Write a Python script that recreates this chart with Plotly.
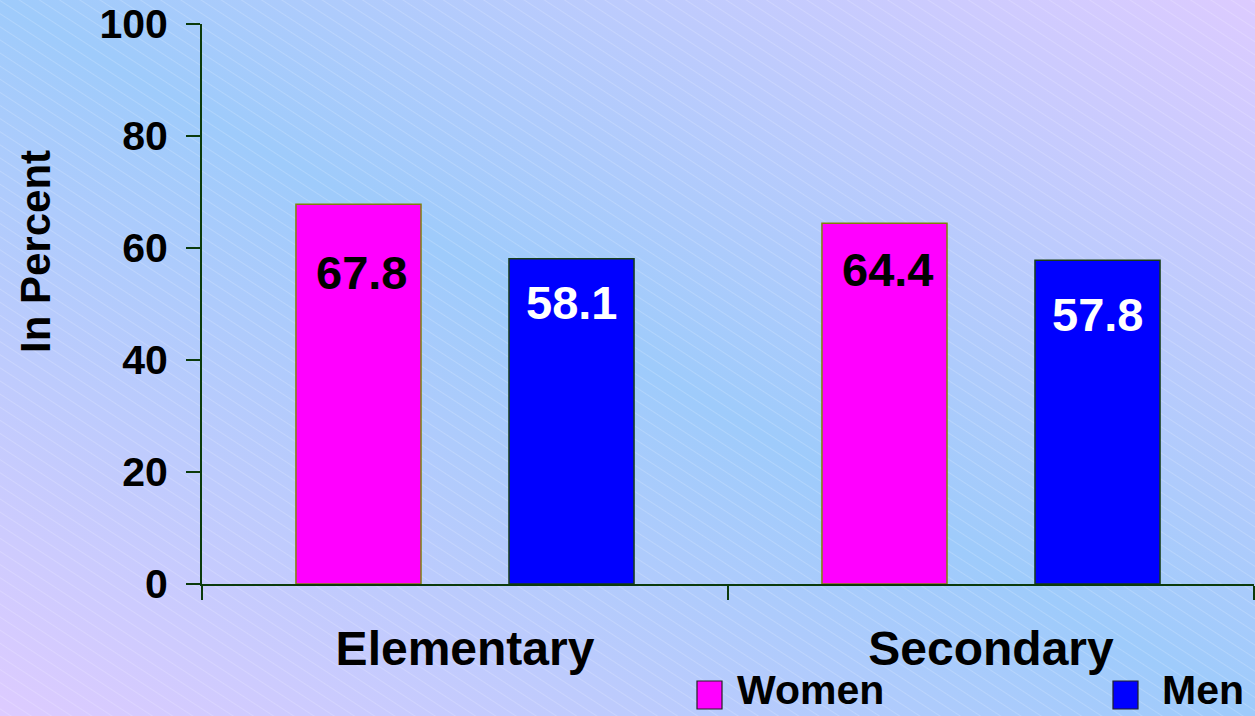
import base64
import plotly.graph_objects as go

categories = ["Elementary", "Secondary"]
series_names = ["Women", "Men"]
women_values = [67.8, 64.4]
men_values = [58.1, 57.8]
y_ticks = [0, 20, 40, 60, 80, 100]

colors = {"Women": "#ff00ff", "Men": "#0000ff"}
outline = {"Women": "#80800a", "Men": "#173d17"}
label_colors = {"Women": "black", "Men": "white"}
values = {"Women": women_values, "Men": men_values}
# vertical offsets (px) of the value labels below the bar tops, as placed in the original
label_drop = {"Women": [-68, -46], "Men": [-44, -54]}

W, H = 1255, 716
ML, MR, MT, MB = 202, 1, 24, 132
PW, PH = W - ML - MR, H - MT - MB
FONT = "Arial, Liberation Sans, sans-serif"
AXIS = "#0b3a0b"

svg = f'''<svg xmlns="http://www.w3.org/2000/svg" width="{W}" height="{H}" viewBox="0 0 {W} {H}" preserveAspectRatio="none">
<defs>
<linearGradient id="g" x1="0" y1="1" x2="1" y2="0">
<stop offset="0" stop-color="#ddcbff"/>
<stop offset="0.5" stop-color="#9ecbfb"/>
<stop offset="1" stop-color="#dccbff"/>
</linearGradient>
<pattern id="p" width="11" height="11" patternUnits="userSpaceOnUse" patternTransform="rotate(33)">
<line x1="0" y1="0" x2="11" y2="0" stroke="white" stroke-opacity="0.3" stroke-width="1.2"/>
</pattern>
</defs>
<rect width="{W}" height="{H}" fill="url(#g)"/>
<rect width="{W}" height="{H}" fill="url(#p)"/>
</svg>'''
bg_uri = "data:image/svg+xml;base64," + base64.b64encode(svg.encode()).decode()

fig = go.Figure()
for name in series_names:
    fig.add_trace(go.Bar(
        x=categories, y=values[name], name=name,
        marker=dict(color=colors[name], line=dict(color=outline[name], width=1.5)),
        showlegend=False,
    ))

# value labels inside bars
for i, name in enumerate(series_names):
    for j, cat in enumerate(categories):
        fig.add_annotation(
            x=cat, y=values[name][j], xref="x", yref="y",
            text=f"{values[name][j]:.1f}", showarrow=False,
            xshift=(-1 if i == 0 else 1) * 106.5 + (3 if i == 0 else 0),
            yshift=label_drop[name][j], yanchor="middle",
            font=dict(family=FONT, size=47, color=label_colors[name], weight="bold"),
        )

# y-axis title
fig.add_annotation(x=(35 - ML) / PW, y=(584 - 252) / PH, xref="paper", yref="paper",
                   text="In Percent", showarrow=False, textangle=-90,
                   xanchor="center", yanchor="middle",
                   font=dict(family=FONT, size=42, color="black", weight="bold"))

# custom legend
leg_x = {"Women": (697, 735), "Men": (1113, 1160)}
for name in series_names:
    sx, tx = leg_x[name]
    fig.add_shape(type="rect", xref="paper", yref="paper",
                  x0=(sx - ML) / PW, x1=(sx + 25 - ML) / PW,
                  y0=(584 - 709) / PH, y1=(584 - 681) / PH,
                  fillcolor=colors[name], line=dict(color="#222222", width=1.2))
    fig.add_annotation(x=(tx - ML) / PW, y=(584 - 690) / PH, xref="paper", yref="paper",
                       text=name, showarrow=False, xanchor="left", yanchor="middle",
                       font=dict(family=FONT, size=41, color="black", weight="bold"))

fig.add_layout_image(
    source=bg_uri, xref="paper", yref="paper",
    x=-ML / PW, y=1 + MT / PH, sizex=W / PW, sizey=H / PH,
    xanchor="left", yanchor="top", sizing="stretch", layer="below",
)

fig.update_layout(
    width=W, height=H,
    margin=dict(l=ML, r=MR, t=MT, b=MB, pad=0),
    paper_bgcolor="#a6cbfa", plot_bgcolor="rgba(0,0,0,0)",
    barmode="group", bargap=0.19, bargroupgap=0.413,
    font=dict(family=FONT, color="black"),
)
fig.update_xaxes(
    showline=True, linecolor=AXIS, linewidth=2,
    ticks="outside", tickson="boundaries", ticklen=14, tickwidth=2, tickcolor=AXIS,
    tickfont=dict(family=FONT, size=48, color="black", weight="bold"),
    ticklabelstandoff=21, showgrid=False,
)
fig.update_yaxes(
    range=[0, 100], tickvals=y_ticks, showline=True, linecolor=AXIS, linewidth=2,
    ticks="outside", ticklen=14, tickwidth=2, tickcolor=AXIS,
    tickfont=dict(family=FONT, size=41, color="black", weight="bold"),
    ticklabelstandoff=10, showgrid=False, zeroline=False,
)

fig.write_html("out.html", config={"displayModeBar": False},
               post_script="document.body.style.margin='0';document.body.style.overflow='hidden';")
